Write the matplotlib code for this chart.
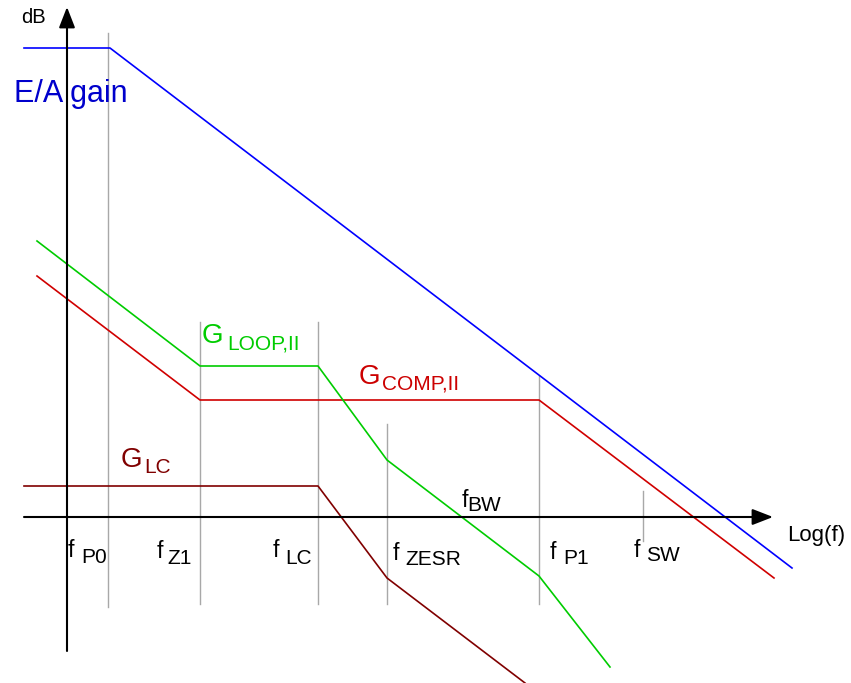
import matplotlib.pyplot as plt

plt.rcParams['font.family'] = ['Liberation Sans', 'DejaVu Sans']

# picture coordinates (pixels, y downward)
ea_x = [24, 110, 792]
ea_y = [48, 48, 568]
comp_x = [37, 200, 539, 774]
comp_y = [276, 400, 400, 578]
loop_x = [37, 200, 318, 387, 539, 610]
loop_y = [241, 366, 366, 460, 576, 667]
lc_x = [24, 318, 387, 525]
lc_y = [486, 486, 578, 683]

# corner frequencies: position, top, bottom of marker line
freq_x = [108, 200, 318, 387, 539, 643]
freq_top = [33, 322, 322, 424, 376, 491]
freq_bot = [607, 604, 604, 604, 604, 541]
freq_sub = ['P0', 'Z1', 'LC', 'ZESR', 'P1', 'SW']
f_x = [68, 157, 273, 393, 550, 634]
f_base = [557, 558, 557, 560, 559, 557]
sub_x = [81, 167, 285, 405, 563, 646]
sub_base = [563, 564, 564, 565, 564, 561]

fig = plt.figure(figsize=(8.51, 6.83), dpi=100)
ax = fig.add_axes([0, 0, 1, 1])
ax.set_xlim(0, 851)
ax.set_ylim(683, 0)
ax.axis('off')

gray = '#a8a8a8'
for x, t, b in zip(freq_x, freq_top, freq_bot):
    ax.plot([x, x], [t, b], color=gray, lw=1.0)

# axes with arrows
ax.annotate('', xy=(773, 517), xytext=(24, 517),
            arrowprops=dict(arrowstyle='-|>,head_length=0.9,head_width=0.35',
                            mutation_scale=14, color='black', lw=1.5, shrinkA=0, shrinkB=0))
ax.annotate('', xy=(67, 7), xytext=(67, 651),
            arrowprops=dict(arrowstyle='-|>,head_length=0.9,head_width=0.35',
                            mutation_scale=14, color='black', lw=1.5, shrinkA=0, shrinkB=0))

ax.plot(ea_x, ea_y, color='#0000ff', lw=1.2)
ax.plot(comp_x, comp_y, color='#d00000', lw=1.2)
ax.plot(loop_x, loop_y, color='#00cc00', lw=1.2)
ax.plot(lc_x, lc_y, color='#800000', lw=1.2)

ax.text(21, 23, 'dB', fontsize=14.5, va='baseline')
ax.text(787, 541, 'Log(f)', fontsize=16, va='baseline')
ax.text(14, 102, 'E/A gain', fontsize=22, color='#0000cc', va='baseline')

ax.text(202, 343, 'G', fontsize=20, color='#00cc00', va='baseline')
ax.text(227, 349, 'LOOP,II', fontsize=15, color='#00cc00', va='baseline')
ax.text(359, 384, 'G', fontsize=20, color='#cc0000', va='baseline')
ax.text(382, 389, 'COMP,II', fontsize=15, color='#cc0000', va='baseline')
ax.text(121, 467, 'G', fontsize=20, color='#800000', va='baseline')
ax.text(144, 473, 'LC', fontsize=15, color='#800000', va='baseline')

for fx, fb, sx, sb, s in zip(f_x, f_base, sub_x, sub_base, freq_sub):
    ax.text(fx, fb, 'f', fontsize=16.5, va='baseline')
    ax.text(sx, sb, s, fontsize=15, va='baseline')

ax.text(462, 507, 'f', fontsize=16.5, va='baseline')
ax.text(467, 511, 'BW', fontsize=15, va='baseline')

fig.savefig('out.png', dpi=100)
